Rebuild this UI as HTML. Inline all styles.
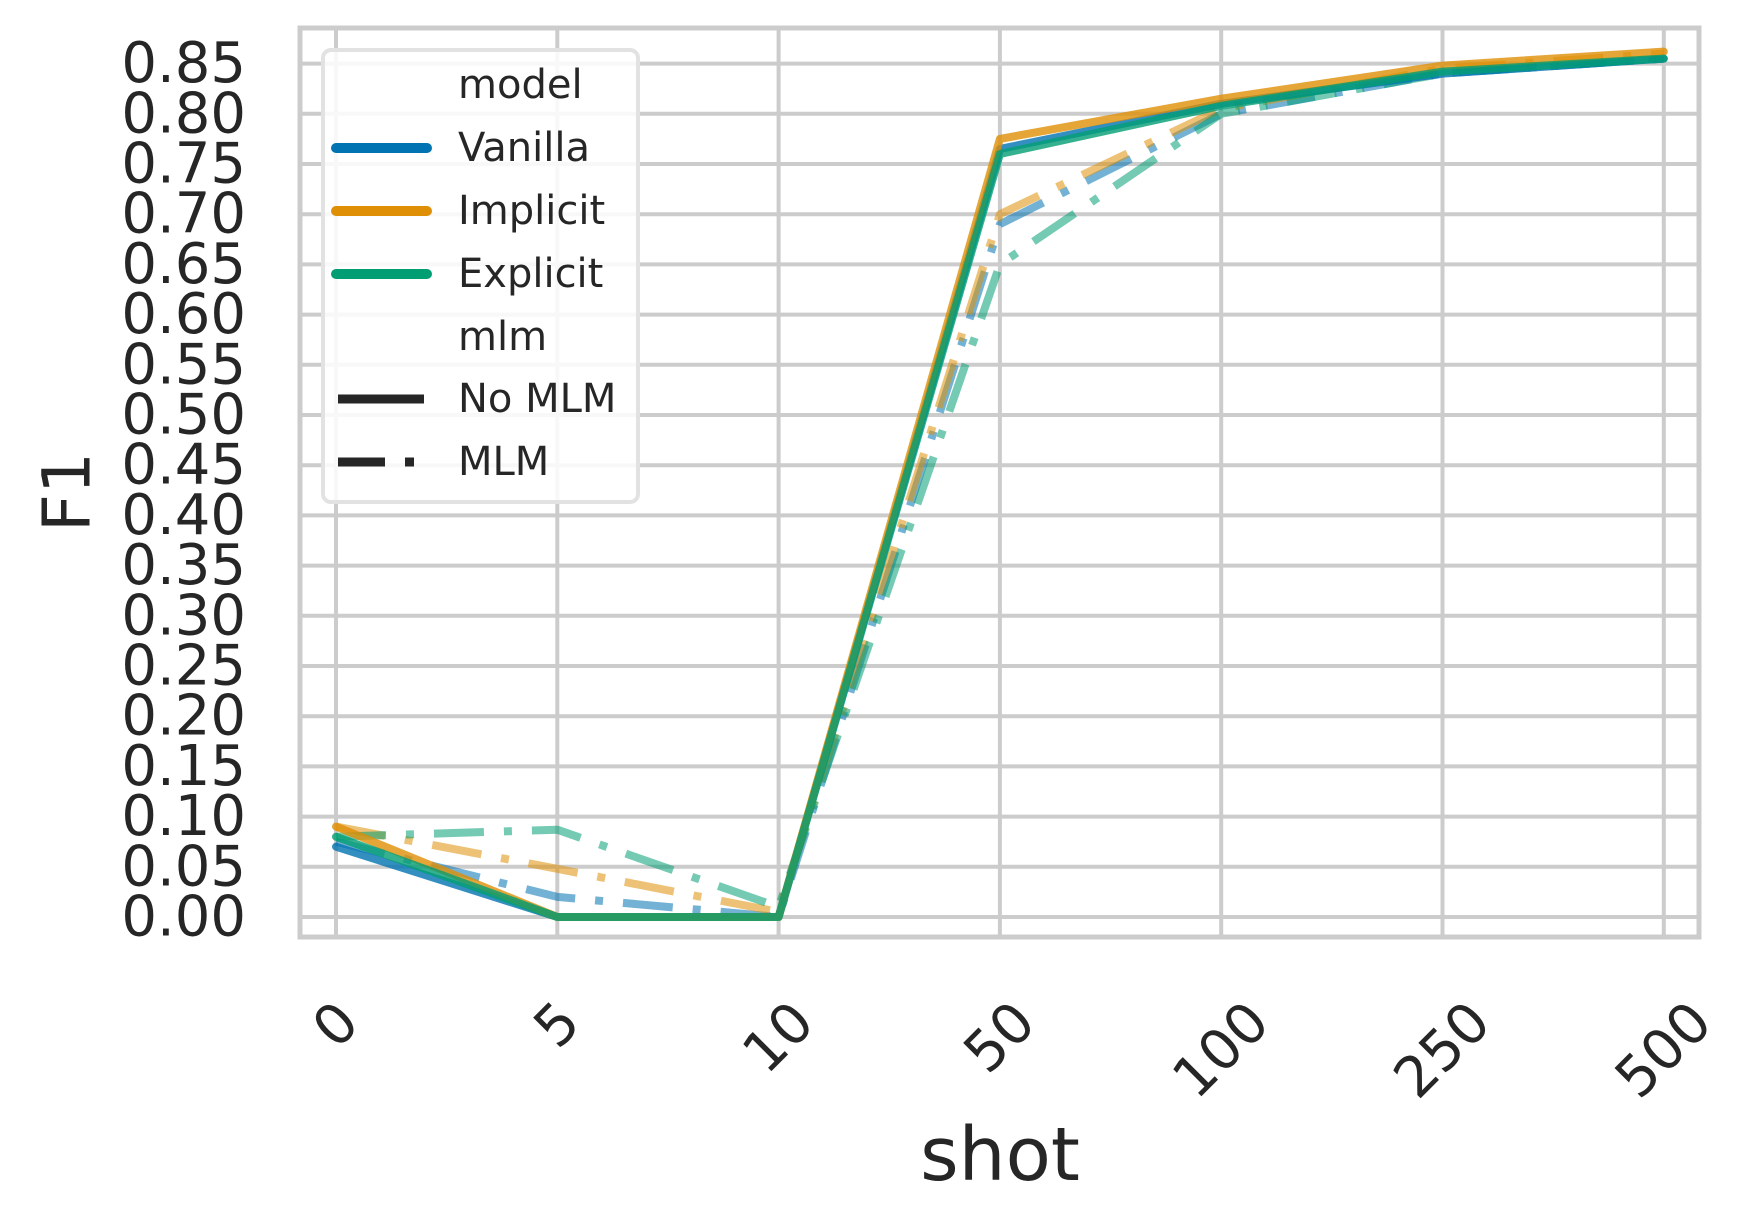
<!DOCTYPE html>
<html><head><meta charset="utf-8"><style>
html,body{margin:0;padding:0;background:#fff;}
svg text{font-family:"DejaVu Sans","Liberation Sans",sans-serif;fill:#262626;}
</style></head><body>
<svg id="chart" width="1753" height="1226" viewBox="0 0 1753 1226" xmlns="http://www.w3.org/2000/svg">
<rect x="0" y="0" width="1753" height="1226" fill="#fff"/>
<g id="grid"></g>
<rect x="300" y="28" width="1399" height="909" fill="none" stroke="#cccccc" stroke-width="5"/>
<g id="lines"></g>
<g id="yticks"></g>
<g id="xticks"></g>
<text x="67" y="492" font-size="66" text-anchor="middle" dominant-baseline="central" transform="rotate(-90 67 492)">F1</text>
<text x="1000" y="1180" font-size="74" text-anchor="middle">shot</text>
<g id="legend">
<rect x="323" y="50" width="315" height="452" rx="8" fill="#fff" fill-opacity="0.85" stroke="#e2e2e2" stroke-width="4"/>
</g>
</svg>
<script>
const categories = ["0","5","10","50","100","250","500"];
const yTicks = ["0.00","0.05","0.10","0.15","0.20","0.25","0.30","0.35","0.40","0.45","0.50","0.55","0.60","0.65","0.70","0.75","0.80","0.85"];
const vanillaNoMLM = [0.07, 0.0, 0.0, 0.765, 0.81, 0.84, 0.855];
const implicitNoMLM = [0.09, 0.0, 0.0, 0.775, 0.815, 0.848, 0.862];
const explicitNoMLM = [0.08, 0.0, 0.0, 0.76, 0.808, 0.842, 0.855];
const vanillaMLM = [0.075, 0.02, 0.0, 0.69, 0.80, 0.84, 0.855];
const implicitMLM = [0.09, 0.048, 0.005, 0.70, 0.805, 0.845, 0.86];
const explicitMLM = [0.08, 0.087, 0.01, 0.65, 0.80, 0.84, 0.855];

const NS = "http://www.w3.org/2000/svg";
const X0 = 336, XSTEP = 221.3;
const Y0 = 917, YPER = 50.2 / 0.05;
function xs(i){ return X0 + i * XSTEP; }
function ys(v){ return Y0 - v * YPER; }
function mk(tag, attrs, parent){
  const e = document.createElementNS(NS, tag);
  for (const k in attrs) e.setAttribute(k, attrs[k]);
  parent.appendChild(e);
  return e;
}
const grid = document.getElementById('grid');
yTicks.forEach((t) => {
  const y = ys(parseFloat(t));
  const l = mk('line', {x1:300, x2:1699, y1:y, y2:y, stroke:'#cccccc', 'stroke-width':4}, grid);
  
  
  const tx = mk('text', {x:246, y:y, 'font-size':56, 'text-anchor':'end', 'dominant-baseline':'central'}, document.getElementById('yticks'));
  tx.textContent = t;
  
  
});
categories.forEach((c, i) => {
  const x = xs(i);
  const l = mk('line', {x1:x, x2:x, y1:28, y2:937, stroke:'#cccccc', 'stroke-width':4}, grid);
  
  
  const w = c.length * 0.636 * 56;
  const cy = 998 + (w + 41) * 0.7071 / 2;
  const tx = mk('text', {x:x, y:cy, 'font-size':56, 'text-anchor':'middle', 'dominant-baseline':'central', transform:'rotate(-45 '+x+' '+cy+')'}, document.getElementById('xticks'));
  tx.textContent = c;
  
  
});
const colors = {vanilla:'#0173b2', implicit:'#de8f05', explicit:'#029e73'};
const series = [
  {name:'vanilla-mlm', data:vanillaMLM, c:colors.vanilla, dash:true},
  {name:'implicit-mlm', data:implicitMLM, c:colors.implicit, dash:true},
  {name:'explicit-mlm', data:explicitMLM, c:colors.explicit, dash:true},
  {name:'vanilla-no-mlm', data:vanillaNoMLM, c:colors.vanilla, dash:false},
  {name:'implicit-no-mlm', data:implicitNoMLM, c:colors.implicit, dash:false},
  {name:'explicit-no-mlm', data:explicitNoMLM, c:colors.explicit, dash:false}
];
const lines = document.getElementById('lines');
series.forEach(s => {
  const pts = s.data.map((v, i) => xs(i).toFixed(1) + ',' + ys(v).toFixed(1)).join(' ');
  const attrs = {points:pts, fill:'none', stroke:s.c, 'stroke-width':8, 'stroke-linejoin':'round'};
  if (s.dash) { attrs['stroke-dasharray'] = '50 20 8 20'; attrs['stroke-opacity'] = 0.55; }
  else { attrs['stroke-opacity'] = 0.8; attrs['stroke-linecap'] = 'round'; }
  const p = mk('polyline', attrs, lines);
  
  
});
const leg = document.getElementById('legend');
const entries = [
  {label:'model', y:85},
  {label:'Vanilla', y:148, c:colors.vanilla},
  {label:'Implicit', y:211, c:colors.implicit},
  {label:'Explicit', y:274, c:colors.explicit},
  {label:'mlm', y:337},
  {label:'No MLM', y:399, c:'#262626', style:'solid'},
  {label:'MLM', y:462, c:'#262626', style:'dashdot'}
];
entries.forEach(e => {
  if (e.c) {
    const a = {x1:e.style ? 338 : 336, x2:e.style ? 424 : 427, y1:e.y, y2:e.y, stroke:e.c, 'stroke-width':e.style ? 9 : 10, 'stroke-linecap':e.style ? 'butt' : 'round'};
    if (e.style === 'dashdot') a['stroke-dasharray'] = '47 20 9 20';
    const l = mk('line', a, leg);
    
    
  }
  const t = mk('text', {x:458, y:e.y, 'font-size':40, 'dominant-baseline':'central'}, leg);
  t.textContent = e.label;
  
  
});
</script>
</body></html>
